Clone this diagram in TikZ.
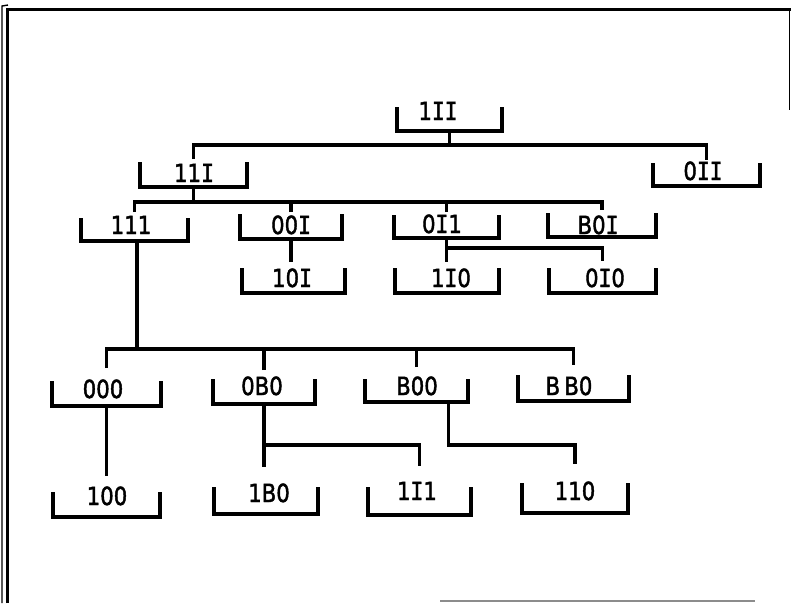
\documentclass[tikz,border=0pt]{standalone}
\usepackage{fontspec}
\setmainfont{DejaVu Sans}[FakeStretch=0.85,FakeBold=1.6]
\newfontfamily\serI{DejaVu Sans Mono}[FakeStretch=0.85,FakeBold=1.6]
\newcommand\RI{{\serI I}}
\tikzset{
  boxn/.style={draw=none, rectangle, inner sep=0pt, outer sep=0pt},
  br/.style={line width=3.1pt, line join=miter},
  cn/.style={line width=3.1pt},
  lbl/.style={anchor=base, inner sep=0pt, font=\fontsize{25pt}{25pt}\selectfont}
}
\newcommand\bx[8]{%
  \node[boxn, minimum width={(#3-#2)*1pt}, minimum height={(#5-#4)*1pt}] (#1) at ({(#2+#3)/2},{(#4+#5)/2}) {};
  \draw[br] (#1.north west) |- (#1.south east) -- (#1.north east);
  \node[lbl] (#1t) at (#6,#7) {#8};
}
\begin{document}
\begin{tikzpicture}[x=1pt,y=-1pt]
\fill[white] (0,0) rectangle (791,603);
\useasboundingbox (0,0) rectangle (791,603);
% frame
\draw[line width=3pt] (7,603) -- (7,9) -- (791,9);
\draw[line width=1.4pt] (2,603) -- (2,6) -- (8,5);
\draw[line width=1.4pt] (789.5,9) -- (789.5,110);
\draw[line width=2pt, black!45] (440,601) -- (755,601);
% boxes
\bx{bA}{397}{502}{107}{131}{438}{120}{1\RI\RI}
\bx{bB}{140}{247}{162}{187}{194}{182}{11\RI}
\bx{bC}{653}{760}{163}{186}{703}{180}{0\RI\RI}
\bx{bD}{81}{188}{218}{241}{131}{234}{111}
\bx{bE}{240}{342}{214}{239}{291}{234}{00\RI}
\bx{bF}{394}{499}{215}{238}{442}{233}{0\RI1}
\bx{bG}{548}{656}{213}{237}{598}{234}{B0\RI}
\bx{bH}{242}{345}{268}{293}{292}{287}{10\RI}
\bx{bI}{395}{499}{268}{293}{451}{287}{1\RI0}
\bx{bJ}{549}{656}{268}{293}{605}{287}{0\RI0}
\bx{bK}{52}{161}{381}{406}{103}{398}{000}
\bx{bL}{213}{315}{379}{404}{262}{395}{0B0}
\bx{bM}{365}{468}{379}{402}{417}{395}{B00}
\bx{bN}{518}{629}{375}{401}{569}{395}{B\,B0}
\bx{bO}{53}{160}{492}{517}{107}{505}{100}
\bx{bP}{214}{318}{487}{514}{269}{502}{1B0}
\bx{bQ}{368}{471}{487}{515}{417}{500}{1\RI1}
\bx{bR}{522}{628}{483}{513}{575}{500}{110}
% connectors
\draw[cn] (bA.south) -- (bA.south |- 0,145);
\draw[cn] ([yshift=3pt]bB.north) |- (bC.north |- 0,145) -- ([yshift=3pt]bC.north);
\draw[cn] (bB.south) -- (bB.south |- 0,202);
\draw[cn] ([yshift=6pt]bD.north) |- (bG.north |- 0,202) -- ([yshift=3pt]bG.north);
\draw[cn] ([yshift=2pt]bE.north) -- (bE.north |- 0,202);
\draw[cn] ([yshift=3pt]bF.north) -- (bF.north |- 0,202);
\draw[cn] (bE.south) -- ([yshift=6pt]bE.south |- bH.north);
\draw[cn] (bF.south) -- ([yshift=6pt]bF.south |- bI.north);
\draw[cn] (bF.south |- 0,248) -| ([yshift=7pt]bJ.north);
\draw[cn] ([xshift=2.5pt]bD.south) -- ([xshift=2.5pt]bD.south |- 0,349);
\draw[cn] ([yshift=13pt]bK.north) |- (bN.north |- 0,349) -- ([yshift=10pt]bN.north);
\draw[cn] ([yshift=9pt]bL.north) -- (bL.north |- 0,349);
\draw[cn] ([yshift=12pt]bM.north) -- (bM.north |- 0,349);
\draw[cn] (bK.south) -- ([yshift=16pt]bK.south |- bO.north);
\draw[cn] (bL.south) -- ([yshift=20pt]bL.south |- bP.north);
\draw[cn] (bL.south |- 0,445) -| ([yshift=21pt]bQ.north);
\draw[cn] ([xshift=32pt]bM.south) |- (bR.north |- 0,445) -- ([yshift=19pt]bR.north);
\end{tikzpicture}
\end{document}
